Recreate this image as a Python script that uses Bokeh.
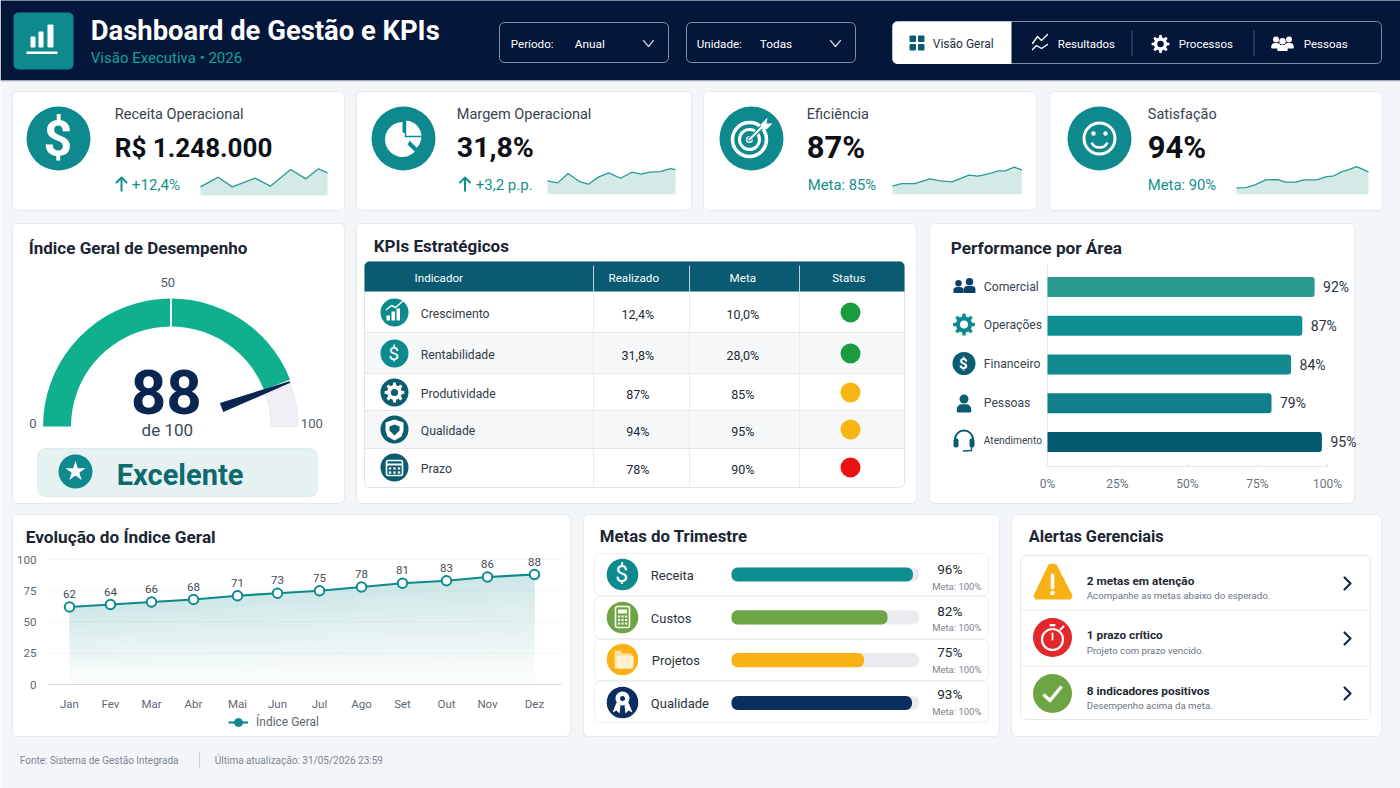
import numpy as np
from bokeh.core.properties import value
from bokeh.embed import file_html
from bokeh.resources import INLINE
from bokeh.plotting import figure
from bokeh.models import Range1d, LinearAxis, FixedTicker, Legend, LegendItem

# ---------------- DATA ----------------
kpi_titles = ["Receita Operacional", "Margem Operacional", "Eficiência", "Satisfação"]
kpi_values = ["R$ 1.248.000", "31,8%", "87%", "94%"]
kpi_value_sizes = [26, 28.5, 31, 31]
kpi_subs = ["+12,4%", "+3,2 p.p.", "Meta: 85%", "Meta: 90%"]

spark1_t = [0, 14, 25, 43, 55, 71, 83, 93, 100]
spark1_v = [26, 55, 26, 52, 28, 78, 50, 80, 68]
spark2_t = [0, 8, 16, 25, 32, 40, 48, 57, 66, 73, 80, 88, 96, 100]
spark2_v = [40, 34, 62, 38, 30, 52, 64, 48, 66, 60, 66, 68, 77, 74]
spark3_t = [0, 7, 17, 29, 37, 46, 59, 66, 74, 82, 87, 94, 100]
spark3_v = [24, 32, 32, 46, 40, 37, 57, 54, 61, 70, 70, 81, 73]
spark4_t = [0, 7, 14, 22, 31, 37, 45, 51, 61, 68, 73, 80, 84, 91, 100]
spark4_v = [19, 20, 28, 43, 44, 36, 36, 43, 43, 53, 54, 68, 72, 83, 67]

gauge_value = 88

table_headers = ["Indicador", "Realizado", "Meta", "Status"]
table_names = ["Crescimento", "Rentabilidade", "Produtividade", "Qualidade", "Prazo"]
table_real = ["12,4%", "31,8%", "87%", "94%", "78%"]
table_meta = ["10,0%", "28,0%", "85%", "95%", "90%"]
table_status = ["#1a9c3e", "#1a9c3e", "#f7b512", "#f7b512", "#ee1111"]

perf_areas = ["Comercial", "Operações", "Financeiro", "Pessoas", "Atendimento"]
perf_bars = [95.4, 91, 87, 80, 98]
perf_labels = ["92%", "87%", "84%", "79%", "95%"]
perf_colors = ["#2a9a8c", "#0e8f8f", "#118a90", "#107f8a", "#055a70"]
perf_ticks = [0, 25, 50, 75, 100]

months = ["Jan", "Fev", "Mar", "Abr", "Mai", "Jun", "Jul", "Ago", "Set", "Out", "Nov", "Dez"]
month_pos = [0, 41, 82, 124, 168, 208, 250, 292, 333, 377, 418, 465]
index_values = [62, 64, 66, 68, 71, 73, 75, 78, 81, 83, 86, 88]
index_ticks = [0, 25, 50, 75, 100]

goal_names = ["Receita", "Custos", "Projetos", "Qualidade"]
goal_bars = [96.5, 83, 70.5, 96]
goal_labels = ["96%", "82%", "75%", "93%"]
goal_colors = ["#0e8f8f", "#6ea544", "#f9b215", "#0a2f5f"]

alert_titles = ["2 metas em atenção", "1 prazo crítico", "8 indicadores positivos"]
alert_subs = ["Acompanhe as metas abaixo do esperado.", "Projeto com prazo vencido.", "Desempenho acima da meta."]

# ---------------- CANVAS ----------------
BG = "#f2f6f9"
TEAL = "#0e8a8e"
DARK = "#04163a"
INK = "#1b2533"
FONT = "Roboto"

p = figure(width=1400, height=788, x_range=Range1d(0, 1400), y_range=Range1d(-1, 787),
           output_backend="svg", toolbar_location=None, min_border=0,
           background_fill_color=BG, border_fill_color=BG, outline_line_color=None)
p.xaxis.visible = False
p.yaxis.visible = False
p.grid.visible = False


def Y(py):
    return 788 - py


def T(x, y, s, size, color=INK, bold=False, align="left", font=FONT):
    p.text(x=[x - 0.7], y=[Y(y)], text=[s], text_font=value(font), text_font_size=f"{size}px", text_color=color,
           text_font_style="bold" if bold else "normal", text_align=align, text_baseline="middle")


def rr(x0, y0, x1, y1, fill=None, line=None, r=5, lw=1):
    rad = tuple(int(round(v)) for v in r) if isinstance(r, tuple) else int(round(r))
    p.quad(left=[x0], right=[x1], top=[Y(y0)], bottom=[Y(y1)], fill_color=fill or "white",
           fill_alpha=1 if fill else 0, line_color=line, line_width=lw, border_radius=rad)


def poly(xs, ys, color):
    p.patch(list(xs), [Y(v) for v in ys], fill_color=color, line_color=None)


def ln(xs, ys, color, w=1.5, cap="round"):
    p.line(list(xs), [Y(v) for v in ys], line_color=color, line_width=w, line_cap=cap, line_join="round")


def disc(x, y, r, color):
    p.circle(x=[x], y=[Y(y)], radius=r, fill_color=color, line_color=None)


def ring(x, y, r, color, w=2):
    p.circle(x=[x], y=[Y(y)], radius=r, fill_alpha=0, line_color=color, line_width=w)


def make_range(name, axis, d0, px0, d1, px1):
    s = (d1 - d0) / (px1 - px0)
    if axis == "x":
        p.extra_x_ranges[name] = Range1d(d0 + (0 - px0) * s, d0 + (1400 - px0) * s)
    else:
        p.extra_y_ranges[name] = Range1d(d0 + (789 - px0) * s, d0 + (1 - px0) * s)


def gear(cx, cy, R, c, hole, teeth=8):
    a = []
    rad = []
    for i in range(teeth):
        b = 2 * np.pi * i / teeth
        w = 2 * np.pi / teeth
        a += [b - .30 * w, b - .17 * w, b + .17 * w, b + .30 * w]
        rad += [.74, 1, 1, .74]
    a = np.array(a)
    rad = np.array(rad) * R
    poly(cx + rad * np.cos(a), cy + rad * np.sin(a), c)
    disc(cx, cy, R * .36, hole)


def person(cx, cy, s, c):
    disc(cx, cy - s * .5, s * .5, c)
    rr(cx - s * .8, cy + s * .08, cx + s * .8, cy + s, fill=c, r=(s * .6, s * .6, s * .15, s * .15))


# ---------------- HEADER ----------------
p.quad(left=[0], right=[1400], top=[Y(-2)], bottom=[Y(81)], fill_color=DARK, line_color=None)
ln([0, 1400], [81.5, 81.5], "#c4ccd6", 1, "butt")
rr(13, 13, 73, 70, fill=TEAL, r=5)
for x0, x1, top in [(30, 35, 37), (38, 43, 32), (47, 53, 25)]:
    rr(x0, top, x1, 48, fill="white", r=1)
rr(26, 52, 57, 54.5, fill="white", r=0)
T(91, 31, "Dashboard de Gestão e KPIs", 27.4, "white", True)
T(91, 58.5, "Visão Executiva  •  2026", 15, "#13a398")

for x0, x1, lab, lx, val, vx, cx in [(499, 668, "Período:", 511, "Anual", 575, 648),
                                     (686, 855, "Unidade:", 697, "Todas", 760, 835)]:
    rr(x0, 23, x1, 63, line="#8390a8", r=5)
    T(lx, 44.5, lab, 11.6, "white")
    T(vx, 44.5, val, 11.8, "white")
    ln([cx - 5, cx, cx + 5], [41, 47, 41], "#c8d0dc", 1.2)

rr(892, 22, 1381, 64, line="#7d8aa3", r=5)
rr(892, 22, 1011, 64.5, fill="white", r=(5, 0, 0, 5))
for xa, ya in [(909, 36), (917.5, 36), (909, 44.5), (917.5, 44.5)]:
    rr(xa, ya, xa + 6.5, ya + 6.5, fill="#0a5d70", r=1)
T(933, 44.5, "Visão Geral", 12, "#25303c")
ln([1032, 1037, 1041, 1047], [44, 37, 41, 35], "white", 1.4)
ln([1032, 1036, 1041, 1047], [50, 46, 49, 45], "white", 1.4)
T(1058, 44.5, "Resultados", 11.5, "white")
ln([1131.5, 1131.5], [31, 56], "#4a5a78", 1, "butt")
gear(1160, 44.5, 9, "white", DARK)
T(1179, 44.5, "Processos", 11.5, "white")
ln([1253.5, 1253.5], [31, 56], "#4a5a78", 1, "butt")
person(1275.5, 43, 6, "white")
person(1288.5, 43, 6, "white")
person(1282, 45, 6.5, "white")
T(1304, 44.5, "Pessoas", 11.5, "white")

# ---------------- KPI CARDS ----------------
BORDER = "#e4e9ee"
card_x = [(12, 344), (356, 691), (703, 1036), (1049, 1382)]
circ_x = [58, 403, 751, 1099]
text_x = [115, 457, 807, 1148]
sub_x = [132, 476, 808, 1148]
sub_sizes = [15.2, 15, 14.8, 14.8]
spark_px = [(200, 327, 196), (547, 675, 194.7), (892, 1021.5, 194.7), (1236, 1368, 194.7)]
sparks = [(spark1_t, spark1_v), (spark2_t, spark2_v), (spark3_t, spark3_v), (spark4_t, spark4_v)]
for i in range(4):
    rr(card_x[i][0], 92, card_x[i][1], 211, fill="white", line=BORDER, r=5)
    disc(circ_x[i], 139, 32, TEAL)
    T(text_x[i], 115, kpi_titles[i], 14.5, "#38424e")
    T(text_x[i], 148, kpi_values[i], kpi_value_sizes[i], "#0c0f14", True)
    T(sub_x[i], 185.5, kpi_subs[i], sub_sizes[i], "#14908c")
    x0, x1, base = spark_px[i]
    make_range(f"sx{i}", "x", 0, x0, 100, x1)
    make_range(f"sy{i}", "y", 0, base, 100, base - 33.3)
    t, v = sparks[i]
    p.varea(x=t, y1=[0] * len(t), y2=v, fill_color="#d3eae6", x_range_name=f"sx{i}", y_range_name=f"sy{i}")
    p.line(x=t, y=v, line_color="#2a9a95", line_width=1.3, x_range_name=f"sx{i}", y_range_name=f"sy{i}")
for ax in [121, 464.5]:
    ln([ax, ax], [178, 192], "#14908c", 2, "butt")
    ln([ax - 5, ax, ax + 5], [183, 178, 183], "#14908c", 2)

T(58, 139, "$", 50, "white", True, "center")
# pie
p.wedge(x=[402], y=[Y(140)], radius=17.5, start_angle=np.pi / 2, end_angle=-np.pi / 4,
        direction="anticlock", fill_color="white", line_color=None)
p.wedge(x=[405], y=[Y(137)], radius=16, start_angle=-np.pi / 4, end_angle=np.pi / 2,
        direction="anticlock", fill_color="white", line_color=None)
disc(402, 140, 7, "white")
ln([405, 405], [121, 137], TEAL, 1.5)
ln([405, 421], [137, 137], TEAL, 1.5)
# target
ring(749, 140, 17, "white", 3.5)
ring(749, 140, 10, "white", 3)
disc(749, 140, 3.5, "white")
ln([749, 765], [140, 124], TEAL, 4.5)
ln([749, 764], [140, 125], "white", 2.2)
poly([761, 767, 766, 772, 766, 760], [124, 118, 124, 124, 130, 129], "white")
# smile
ring(1099, 139, 15.5, "white", 3)
disc(1093, 134, 2.2, "white")
disc(1105, 134, 2.2, "white")
p.arc(x=[1099], y=[Y(139)], radius=9, start_angle=np.pi * 1.15, end_angle=np.pi * 1.85,
      line_color="white", line_width=2.4, direction="anticlock")

# ---------------- GAUGE CARD ----------------
rr(12, 224, 344, 504, fill="white", line=BORDER, r=5)
T(29, 248, "Índice Geral de Desempenho", 17, INK, True)


def ang(v):
    return np.pi * (1 - v / 100)


GX, GY = 170.5, 427
p.annular_wedge(x=[GX], y=[Y(GY)], inner_radius=100, outer_radius=127, start_angle=0, end_angle=ang(gauge_value),
                direction="anticlock", fill_color="#eeeff4", line_color="#dfe1e8", line_width=0.6)
p.annular_wedge(x=[GX], y=[Y(GY)], inner_radius=100, outer_radius=128, start_angle=ang(gauge_value), end_angle=np.pi,
                direction="anticlock", fill_color="#10b08f", line_color=None)
ln([GX + 100 * np.cos(ang(50)), GX + 128 * np.cos(ang(50))], [GY - 100, GY - 128], "white", 1.8, "butt")
a = ang(gauge_value + .6)
ux, uy = np.cos(a), -np.sin(a)
nx, ny = -uy, ux
poly([GX + 54 * ux + 4.8 * nx, GX + 127 * ux + .9 * nx, GX + 127 * ux - .9 * nx, GX + 54 * ux - 4.8 * nx],
     [GY + 54 * uy + 4.8 * ny, GY + 127 * uy + .9 * ny, GY + 127 * uy - .9 * ny, GY + 54 * uy - 4.8 * ny], "#0b2552")
T(168, 283, "50", 13, "#555d66", False, "center")
T(33, 424, "0", 13, "#555d66", False, "center")
T(312, 424, "100", 13, "#555d66", False, "center")
T(166.5, 392, str(gauge_value), 62, "#0b2552", True, "center")
T(167.5, 430, "de 100", 17, "#3c4650", False, "center")
rr(37, 449, 317, 497, fill="#e6f2f1", line="#dcecea", r=8)
disc(75, 472, 17, TEAL)
p.scatter(x=[75], y=[Y(472)], marker="star", size=21, fill_color="white", line_color=None)
T(117, 475, "Excelente", 29, "#0e6a6e", True)

# ---------------- TABLE CARD ----------------
rr(356, 224, 916, 504, fill="white", line=BORDER, r=5)
T(374, 246, "KPIs Estratégicos", 17, INK, True)
rows = [(292, 333), (333, 374), (374, 411), (411, 449), (449, 487)]
rr(364, 262, 904, 488, fill="white", line="#dfe4e9", r=5)
for i, (a0, a1) in enumerate(rows):
    if i % 2 == 1:
        rr(364.5, a0, 903.5, a1, fill="#f5f7f9", r=0)
    if i:
        ln([364, 904], [a0, a0], "#e3e7eb", 1, "butt")
rr(364, 262, 904, 292, fill="#0a5a72", r=(5, 5, 0, 0))
for xs in [593, 689, 799]:
    ln([xs, xs], [292, 487], "#e8ebef", 1, "butt")
    ln([xs, xs], [266, 292], "#b8d0d8", 1, "butt")
for s, xc in zip(table_headers, [439, 634, 743, 849]):
    T(xc, 278, s, 11.6, "white", False, "center")
row_py = [313, 354, 393, 430, 468]
row_col = [TEAL, TEAL, "#0a5d70", "#0a5d70", "#0a5d70"]
for i, py in enumerate(row_py):
    disc(394, py, 14, row_col[i])
    T(421, py + 1, table_names[i], 12.2, "#333c46")
    T(638, py + 2, table_real[i], 12.5, "#222a33", False, "center")
    T(743, py + 2, table_meta[i], 12.5, "#222a33", False, "center")
    disc(850, py, 10, table_status[i])
# table icons
for x0, top in [(386, 316), (391, 312), (396, 309)]:
    rr(x0, top, x0 + 3.5, 321, fill="white", r=0)
ln([386, 391, 395, 402], [310, 306, 308, 302], "white", 1.4)
T(394, 354, "$", 19, "white", False, "center")
gear(394, 393, 10, "white", "#0a5d70")
poly([394, 403, 403, 401, 394, 387, 385, 385], [420, 423, 431, 437, 441, 437, 431, 423], "white")
poly([394, 399, 399, 394, 389, 389], [425, 427, 431, 436, 431, 427], "#0a5d70")
rr(386, 461, 402, 476, line="white", lw=1.6, r=2)
ln([386, 402], [465, 465], "white", 2, "butt")
for gx in [389.5, 394, 398.5]:
    for gy in [469, 473]:
        rr(gx - 1.2, gy - 1.1, gx + 1.2, gy + 1.1, fill="white", r=0)

# ---------------- PERFORMANCE CARD ----------------
rr(929, 224, 1354, 504, fill="white", line=BORDER, r=5)
T(951, 248, "Performance por Área", 17.2, INK, True)
make_range("perf_x", "x", 0, 1047, 100, 1327)
make_range("perf_y", "y", 0, 287.5, 4, 442.5)
perf_idx = list(range(len(perf_areas)))
p.line([1047, 1047], [Y(265), Y(467)], line_color="#e6eaee", line_width=1)
p.hbar(y=perf_idx, left=0, right=perf_bars, height=0.515, fill_color=perf_colors, line_color=None,
       border_radius=(0, 3, 3, 0), x_range_name="perf_x", y_range_name="perf_y")
p.text(x=perf_bars, y=perf_idx, text=perf_labels, x_offset=8.5, text_font=value(FONT), text_font_size="14px",
       text_color="#2a323c", text_baseline="middle", x_range_name="perf_x", y_range_name="perf_y")
perf_axis = LinearAxis(x_range_name="perf_x", fixed_location=Y(467), ticker=FixedTicker(ticks=perf_ticks),
                       major_label_overrides={t: f"{t}%" for t in perf_ticks}, axis_line_color="#e6eaee",
                       major_tick_line_color="#e6eaee", major_tick_in=3, major_tick_out=0, minor_tick_line_color=None,
                       major_label_text_font=FONT, major_label_text_font_size="12px",
                       major_label_text_color="#6a737c", major_label_standoff=10, bounds=(0, 100))
p.add_layout(perf_axis, "below")
for s, py in zip(perf_areas, [287, 325.5, 364, 403, 441]):
    T(984, py, s, 10.2 if s == "Atendimento" else 12.2, "#3a444e")
NAVY2 = "#0e3f68"
person(958, 287, 6.5, NAVY2)
person(969, 286, 7.5, NAVY2)
gear(963.5, 325, 11, TEAL, "white")
disc(963.5, 364, 11.5, "#0a5d70")
T(963.5, 364, "$", 15, "white", True, "center")
person(963.5, 404, 9, "#0a5d70")
p.arc(x=[963.5], y=[Y(440)], radius=9, start_angle=0, end_angle=np.pi, line_color="#0a5d70", line_width=2)
rr(953, 439, 958, 448, fill="#0a5d70", r=2)
rr(969, 439, 974, 448, fill="#0a5d70", r=2)
ln([971, 971, 963], [448, 451, 451.5], "#0a5d70", 1.5)

# ---------------- EVOLUTION CARD ----------------
rr(12, 515, 570, 737, fill="white", line=BORDER, r=5)
T(26, 537, "Evolução do Índice Geral", 17.2, INK, True)
make_range("line_x", "x", 0, 69, 465, 534)
make_range("line_y", "y", 0, 685, 100, 560)
for t in index_ticks[1:]:
    p.line([48, 561], [t, t], line_color="#f3f5f7", line_width=1, y_range_name="line_y")
vals = np.array(index_values, dtype=float)
for f in np.linspace(0, .96, 24):
    p.varea(x=month_pos, y1=list(vals * f), y2=index_values, fill_color=TEAL, fill_alpha=0.008,
            x_range_name="line_x", y_range_name="line_y")
line_r = p.line(x=month_pos, y=index_values, line_color=TEAL, line_width=2.2,
                x_range_name="line_x", y_range_name="line_y")
p.scatter(x=month_pos, y=index_values, size=9.5, fill_color="white", line_color=TEAL, line_width=2,
          x_range_name="line_x", y_range_name="line_y")
p.text(x=month_pos, y=index_values, text=[str(v) for v in index_values], y_offset=-13, text_font=value(FONT),
       text_font_size="11.5px", text_color="#444c55", text_align="center", text_baseline="middle",
       x_range_name="line_x", y_range_name="line_y")
line_xaxis = LinearAxis(x_range_name="line_x", fixed_location=Y(685), ticker=FixedTicker(ticks=month_pos),
                        major_label_overrides=dict(zip(month_pos, months)), axis_line_color="#d8dde2",
                        axis_line_width=1.2, major_tick_line_color=None, minor_tick_line_color=None,
                        major_label_text_font=FONT, major_label_text_font_size="11.5px",
                        major_label_text_color="#5e6771", major_label_standoff=6, bounds=(-21, 492))
p.add_layout(line_xaxis, "below")
line_yaxis = LinearAxis(y_range_name="line_y", fixed_location=50, ticker=FixedTicker(ticks=index_ticks),
                        axis_line_color=None, major_tick_line_color=None, minor_tick_line_color=None,
                        major_label_text_font=FONT, major_label_text_font_size="11.5px",
                        major_label_text_color="#5e6771", major_label_standoff=8)
p.add_layout(line_yaxis, "left")
legend_dot = p.scatter(x=[-99], y=[-99], size=5, fill_color=TEAL, line_color=TEAL)
legend = Legend(items=[LegendItem(label="Índice Geral", renderers=[line_r, legend_dot])], location=(228, 56),
                background_fill_alpha=0, border_line_color=None, label_text_font=FONT, label_text_font_size="12px",
                label_text_color="#5e6771", glyph_width=20, label_standoff=8, margin=0, padding=4, spacing=0)
p.add_layout(legend, "center")

T(20, 761, "Fonte: Sistema de Gestão Integrada", 10, "#7a8794")
ln([199, 199], [753, 769], "#c8d0d8", 1, "butt")
T(215, 761, "Última atualização: 31/05/2026 23:59", 10, "#7a8794")

# ---------------- GOALS CARD ----------------
rr(583, 515, 999, 737, fill="white", line=BORDER, r=5)
T(600, 536, "Metas do Trimestre", 16.8, INK, True)
make_range("goal_x", "x", 0, 731, 100, 919)
make_range("goal_y", "y", 0, 575, 3, 703.5)
goal_idx = list(range(len(goal_names)))
for (a0, a1) in [(554, 596), (597, 639), (640, 681), (682, 723)]:
    rr(594, a0, 988, a1, fill="white", line="#edf0f3", r=5)
p.hbar(y=goal_idx, left=0, right=[100] * 4, height=0.33, fill_color="#e9ebee", line_color=None, border_radius=7,
       x_range_name="goal_x", y_range_name="goal_y")
p.hbar(y=goal_idx, left=0, right=goal_bars, height=0.33, fill_color=goal_colors, line_color=None, border_radius=6,
       x_range_name="goal_x", y_range_name="goal_y")
for i, (cy, ny_, py_, my_) in enumerate(zip([575, 618, 660, 703], [576, 619, 661, 704],
                                            [569.5, 611, 652.5, 694.5], [587, 628, 670, 712])):
    disc(622, cy, 15.8, goal_colors[i] if i != 0 else TEAL)
    T(651 if i != 2 else 652, ny_, goal_names[i], 13, "#2a323c")
    T(950, py_, goal_labels[i], 13.5, "#20282f", False, "center")
    T(957, my_, "Meta: 100%", 9.5, "#7c858e", False, "center")
T(622, 575, "$", 23, "white", False, "center")
rr(615, 607, 629, 628, line="white", lw=1.6, r=2)
rr(617.5, 610, 626.5, 614, fill="white", r=0)
for gx in [618.5, 622, 625.5]:
    for gy in [617, 620.5, 624]:
        rr(gx - 1.1, gy - 1, gx + 1.1, gy + 1, fill="white", r=0)
poly([614, 620, 622, 631, 631, 614], [651, 651, 654, 654, 669, 669], "#fbdf9a")
rr(616, 656, 633, 669, fill="#fff2d0", r=2)
disc(622, 699, 7, "white")
disc(622, 699, 2.5, goal_colors[3])
poly([616, 620, 619, 616, 612], [703, 706, 714, 711, 713], "white")
poly([628, 624, 625, 628, 632], [703, 706, 714, 711, 713], "white")

# ---------------- ALERTS CARD ----------------
rr(1011, 515, 1381, 737, fill="white", line=BORDER, r=5)
T(1029, 537, "Alertas Gerenciais", 16.3, INK, True)
rr(1020, 556, 1370, 720, fill="white", line="#e6eaee", r=6)
ln([1020, 1370], [610.5, 610.5], "#e6eaee", 1, "butt")
ln([1020, 1370], [666.5, 666.5], "#e6eaee", 1, "butt")
for s, sub, y0, y1 in zip(alert_titles, alert_subs, [581, 635, 691], [596, 651, 706]):
    T(1087, y0, s, 11.8, "#1f2833", True)
    T(1087, y1, sub, 9.7, "#6c7580")
for cy in [584, 639, 694]:
    ln([1344, 1350, 1344], [cy - 6, cy, cy + 6], "#15294a", 2.2)
poly([1052, 1056, 1071, 1072, 1070, 1035, 1033, 1034, 1048], [564, 565, 594, 597, 600, 600, 597, 594, 565], "#f9b215")
rr(1050.2, 574, 1053.8, 590, fill="white", r=2)
disc(1052, 593.5, 2.2, "white")
disc(1052, 638, 19.5, "#e3282c")
ring(1052, 640, 10.5, "white", 2.2)
rr(1049, 624.5, 1055, 627, fill="white", r=1)
ln([1052, 1052], [640, 634], "white", 1.8)
ln([1060, 1063], [630, 627], "white", 2)
disc(1052, 694, 19.5, "#6ea544")
ln([1043, 1049.5, 1061], [695, 701, 687], "white", 3.5, "butt")

open("out.html", "w").write(file_html(p, INLINE))
